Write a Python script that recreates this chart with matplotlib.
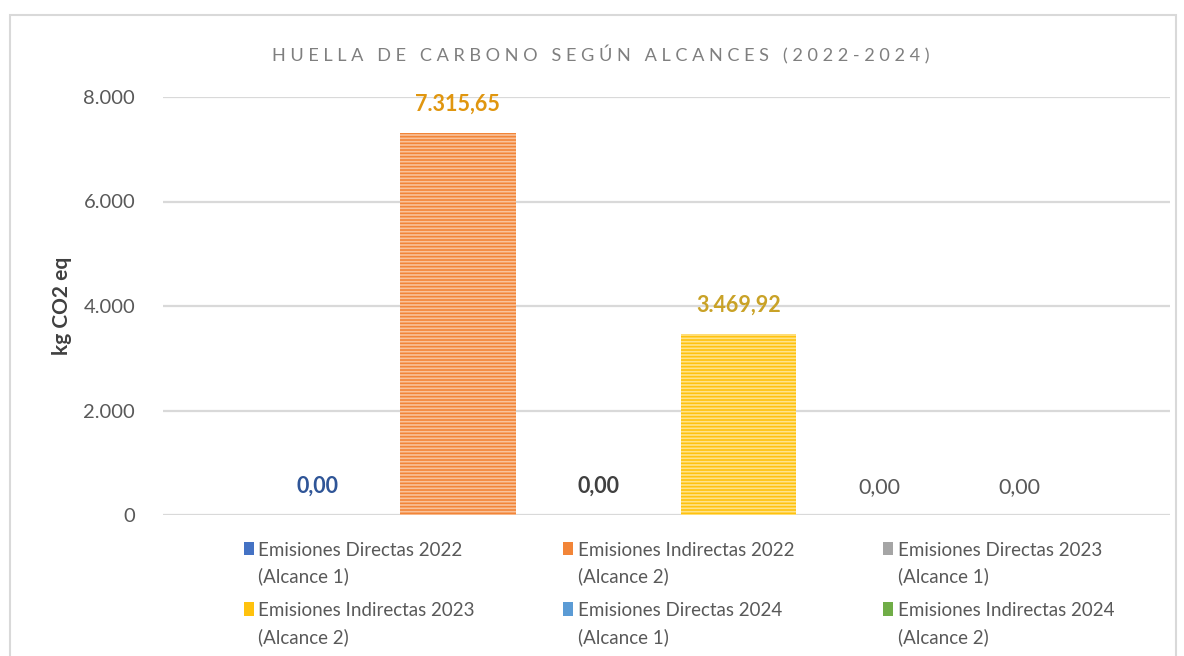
import matplotlib.pyplot as plt
from matplotlib.patches import Rectangle

series = ["Emisiones Directas 2022\n(Alcance 1)", "Emisiones Indirectas 2022\n(Alcance 2)",
          "Emisiones Directas 2023\n(Alcance 1)", "Emisiones Indirectas 2023\n(Alcance 2)",
          "Emisiones Directas 2024\n(Alcance 1)", "Emisiones Indirectas 2024\n(Alcance 2)"]
values = [0.00, 7315.65, 0.00, 3469.92, 0.00, 0.00]
labels = ["0,00", "7.315,65", "0,00", "3.469,92", "0,00", "0,00"]
colors = ["#4472C4", "#F28538", "#A5A5A5", "#FFC20E", "#5B9BD5", "#70AD47"]
stripe = ["#8FAADC", "#F9C29A", "#D0D0D0", "#FFE38A", "#A9C8E8", "#A9D18E"]
label_colors = ["#2F5597", "#E0960F", "#404040", "#C9A227", "#595959", "#595959"]
label_weights = ["bold", "bold", "bold", "bold", "normal", "normal"]
yticks = [0, 2000, 4000, 6000, 8000]
ytick_labels = ["0", "2.000", "4.000", "6.000", "8.000"]

plt.rcParams['font.family'] = ['Lato', 'DejaVu Sans']
plt.rcParams['hatch.linewidth'] = 1.2

fig = plt.figure(figsize=(11.84, 6.56), dpi=100)
fig.patches.append(Rectangle((10 / 1184, -0.01), 1166 / 1184, 1 - 15 / 656 + 0.01,
                             transform=fig.transFigure, fill=False,
                             edgecolor="#D9D9D9", linewidth=1.5))
ax = fig.add_axes([163 / 1184, 1 - 515 / 656, 1007 / 1184, 418 / 656])

handles = []
for i, (name, v) in enumerate(zip(series, values)):
    b = ax.bar(i, v, width=0.82, color=colors[i], edgecolor=stripe[i],
               linewidth=0, hatch="-----", label=name)
    handles.append(b)
    ax.annotate(labels[i], (i, v), xytext=(0, 13), textcoords="offset points",
                ha="center", va="bottom", fontsize=15.5, color=label_colors[i],
                fontweight=label_weights[i])

ax.set_xlim(-1.1, 6.07)
ax.set_ylim(0, 8000)
ax.set_yticks(yticks)
ax.set_yticklabels(ytick_labels, fontsize=14.5, color="#595959")
ax.set_xticks([])
ax.tick_params(axis="y", length=0, pad=20)
ax.grid(axis="y", color="#D9D9D9", linewidth=1.6)
ax.set_axisbelow(True)
for s in ax.spines.values():
    s.set_visible(False)
ax.set_ylabel("kg CO2 eq", fontsize=15, fontweight="bold", color="#404040", labelpad=8)

title = "HUELLA DE CARBONO SEGÚN ALCANCES (2022-2024)"
spaced = "   ".join(" ".join(w) for w in title.split(" "))
fig.text(601 / 1184, 1 - 55 / 656, spaced, ha="center", va="center",
         fontsize=13.1, color="#7F7F7F")

order = [0, 3, 1, 4, 2, 5]
leg = fig.legend([handles[i] for i in order], [series[i] for i in order],
                 ncol=3, loc="upper left", bbox_to_anchor=(236 / 1184, 1 - 534 / 656),
                 frameon=False, fontsize=13.5, handlelength=0.55, handleheight=0.75,
                 handletextpad=0.25, columnspacing=4.7, labelspacing=0.88,
                 borderaxespad=0)
for t in leg.get_texts():
    t.set_color("#595959")
    t.set_linespacing(1.6)
for h in leg.legend_handles:
    h.set_hatch(None)
for col in leg._legend_handle_box.get_children():
    for row in col.get_children():
        row.align = "top"

fig.savefig("out.png", dpi=100)
